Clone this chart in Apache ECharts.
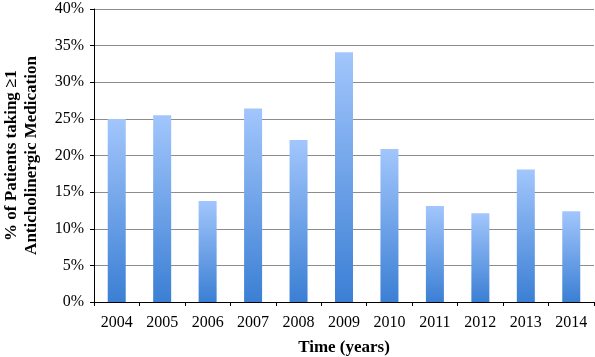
<!DOCTYPE html>
<html>
<head>
<meta charset="utf-8">
<script src="https://cdn.jsdelivr.net/npm/echarts@6/dist/echarts.min.js"></script>
<style>
  html, body { margin: 0; padding: 0; background: #fff; }
  #chart { width: 595px; height: 357px; }
</style>
</head>
<body>
<div id="chart"></div>
<script>
// years on the x axis
const years = ['2004', '2005', '2006', '2007', '2008', '2009', '2010', '2011', '2012', '2013', '2014'];
// % of patients taking >=1 anticholinergic medication
const percentages = [25.0, 25.5, 13.8, 26.4, 22.1, 34.1, 20.9, 13.1, 12.1, 18.1, 12.4];

const chart = echarts.init(document.getElementById('chart'));
const serif = '"Liberation Serif", "DejaVu Serif", serif';

const option = {
  animation: false,
  grid: {
    left: 94,
    right: 1,
    top: 9,
    bottom: 55,
    outerBoundsMode: 'none'
  },
  xAxis: {
    type: 'category',
    data: years,
    name: 'Time (years)',
    nameLocation: 'middle',
    nameGap: 37,
    nameTextStyle: {
      fontFamily: serif,
      fontWeight: 'bold',
      fontSize: 17,
      color: '#000',
      verticalAlign: 'top'
    },
    axisLine: { lineStyle: { color: '#000', width: 1 } },
    axisTick: { show: true, alignWithLabel: false, length: 4, lineStyle: { color: '#000' } },
    axisLabel: {
      fontFamily: serif,
      fontSize: 16,
      color: '#000',
      margin: 13
    }
  },
  yAxis: {
    type: 'value',
    min: 0,
    max: 40,
    interval: 5,
    name: '% of Patients taking ≥1\nAnticholinergic Medication',
    nameLocation: 'middle',
    nameGap: 52,
    nameRotate: 90,
    nameTextStyle: {
      fontFamily: serif,
      fontWeight: 'bold',
      fontSize: 17,
      lineHeight: 20,
      color: '#000'
    },
    axisLine: { show: true, lineStyle: { color: '#000', width: 1 } },
    axisTick: { show: true, length: 4, lineStyle: { color: '#000' } },
    axisLabel: {
      fontFamily: serif,
      fontSize: 16,
      color: '#000',
      margin: 10,
      formatter: '{value}%'
    },
    splitLine: { lineStyle: { color: '#8c8c8c', width: 1 } }
  },
  series: [
    {
      type: 'bar',
      data: percentages,
      barWidth: 18,
      itemStyle: {
        color: new echarts.graphic.LinearGradient(0, 0, 0, 1, [
          { offset: 0, color: '#a2c6fc' },
          { offset: 1, color: '#3b7fd4' }
        ])
      }
    }
  ]
};
chart.setOption(option);
</script>
</body>
</html>
